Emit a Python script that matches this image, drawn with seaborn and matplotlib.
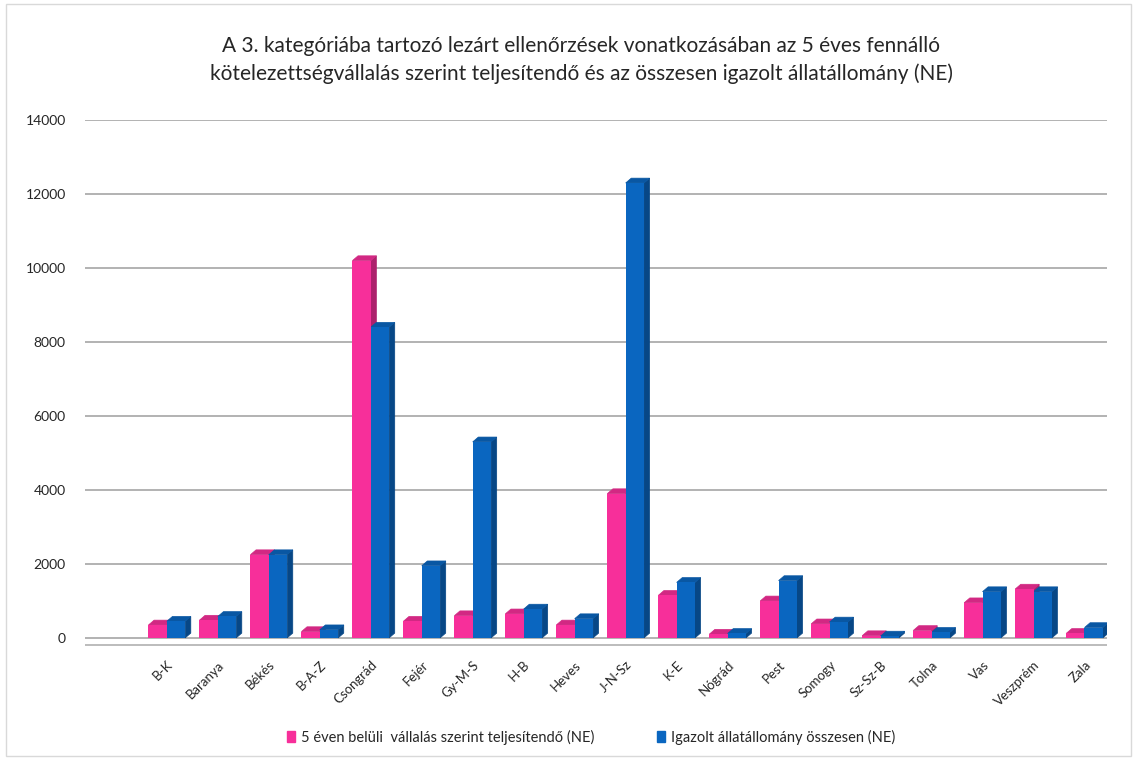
import matplotlib.pyplot as plt
import seaborn as sns
import pandas as pd
import numpy as np
from matplotlib.patches import Polygon, Rectangle

sns.set_style("white")
plt.rcParams['font.family'] = ['Lato', 'DejaVu Sans']

# --- données ---
megyek = ['B-K', 'Baranya', 'Békés', 'B-A-Z', 'Csongrád', 'Fejér', 'Gy-M-S', 'H-B', 'Heves',
          'J-N-Sz', 'K-E', 'Nógrád', 'Pest', 'Somogy', 'Sz-Sz-B', 'Tolna', 'Vas', 'Veszprém', 'Zala']
teljesitendo = [350, 480, 2250, 170, 10200, 450, 600, 650, 350,
                3900, 1150, 100, 1000, 380, 60, 200, 950, 1320, 120]
igazolt = [450, 580, 2250, 220, 8400, 1950, 5300, 780, 520,
           12300, 1500, 120, 1550, 430, 50, 150, 1250, 1250, 280]

s1 = '5 éven belüli  vállalás szerint teljesítendő (NE)'
s2 = 'Igazolt állatállomány összesen (NE)'

df = pd.DataFrame({'Megye': megyek, s1: teljesitendo, s2: igazolt})
df_m = df.melt(id_vars='Megye', var_name='Sorozat', value_name='NE')

pink = '#f72f9a'
blue = '#0a66c0'

fig = plt.figure(figsize=(11.37, 7.6), dpi=100)
ax = fig.add_axes([0.075, 0.148, 0.899, 0.694])

sns.barplot(data=df_m, x='Megye', y='NE', hue='Sorozat', palette=[pink, blue], saturation=1,
            width=0.72, ax=ax, legend=False, zorder=3, edgecolor='none', linewidth=0)

# faux effet 3D sur les barres
dx, dy = 0.11, 130
def darker(c, f):
    r, g, b = plt.matplotlib.colors.to_rgb(c)
    return (r * f, g * f, b * f)

for p in list(ax.patches):
    x0, w, h = p.get_x(), p.get_width(), p.get_height()
    c = p.get_facecolor()
    p.set_antialiased(False)
    top = Polygon([(x0, h), (x0 + dx, h + dy), (x0 + w + dx, h + dy), (x0 + w, h)],
                  closed=True, facecolor=darker(c, 0.85), edgecolor=darker(c, 0.85), lw=0.5, zorder=2.9)
    side = Polygon([(x0 + w, 0), (x0 + w + dx, dy), (x0 + w + dx, h + dy), (x0 + w, h)],
                   closed=True, facecolor=darker(c, 0.7), edgecolor=darker(c, 0.7), lw=0.5, zorder=2.8)
    ax.add_patch(top)
    ax.add_patch(side)

ax.set_xlim(-1.6, 18.45)
ax.set_ylim(-260, 14000)
ax.set_yticks(np.arange(0, 14001, 2000))
for yv in np.arange(0, 14001, 2000):
    ax.axhline(yv, color='#a6a6a6', lw=1.2, zorder=1)
ax.axhline(-200, color='#b0b0b0', lw=1.2, zorder=1)

for s in ax.spines.values():
    s.set_visible(False)
ax.set_xlabel('')
ax.set_ylabel('')
ax.tick_params(axis='y', labelsize=10, length=0, pad=14)
ax.set_xticks(range(len(megyek)))
ax.set_xticklabels(megyek)
ax.tick_params(axis='x', length=0, pad=8, labelsize=9.5)
for lab in ax.get_xticklabels():
    lab.set_rotation(45)
    lab.set_horizontalalignment('right')
    lab.set_rotation_mode('anchor')

fig.text(0.511, 0.94, 'A 3. kategóriába tartozó lezárt ellenőrzések vonatkozásában az 5 éves fennálló',
         ha='center', va='center', fontsize=15)
fig.text(0.511, 0.903, 'kötelezettségvállalás szerint teljesítendő és az összesen igazolt állatállomány (NE)',
         ha='center', va='center', fontsize=15)

handles = [Rectangle((0, 0), 1, 1, color=pink), Rectangle((0, 0), 1, 1, color=blue)]
fig.legend(handles, [s1, s2], loc='center', bbox_to_anchor=(0.52, 0.03), ncol=2, frameon=False,
           fontsize=10.5, handlelength=0.55, handleheight=0.8, handletextpad=0.4, columnspacing=4.3)

fig.patches.append(Rectangle((0.005, 0.005), 0.99, 0.99, transform=fig.transFigure,
                             fill=False, edgecolor='#d9d9d9', lw=1))

fig.savefig('out.png', dpi=100)
